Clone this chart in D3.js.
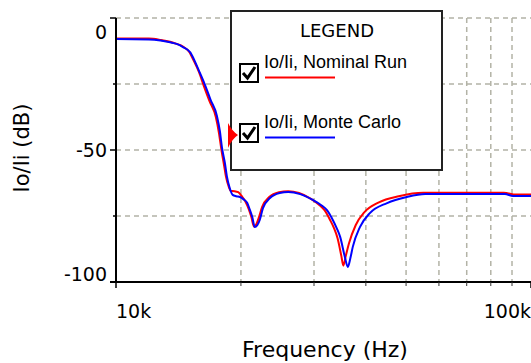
<!DOCTYPE html>
<html>
<head>
<meta charset="utf-8">
<script src="https://cdn.jsdelivr.net/npm/d3@7"></script>
<style>
  html, body { margin: 0; padding: 0; background: #fff; }
  svg { display: block; }
</style>
</head>
<body>
<div id="chart"></div>
<script>
// Nominal run (red)
var nomFreq = [10000, 12000, 12800, 13500, 14000, 14500, 15000, 15400, 15850, 16300, 16800, 17400, 17700, 17950, 18200, 18400, 18700, 18900, 19300, 19700, 20100, 20500, 20900, 21200, 21500, 21800, 22100, 22500, 23400, 24700, 26000, 27600, 29500, 31000, 31800, 32800, 33500, 34200, 34900, 35300, 35800, 36400, 37800, 39700, 43000, 48000, 55000, 86000, 92000, 100000];
var nomDb = [-7.8, -7.8, -8.3, -9, -9.8, -10.8, -12.8, -16.2, -20.5, -26, -31.5, -37.5, -43.5, -50, -55.5, -60, -64, -65.5, -65.6, -66, -67.5, -69.5, -72.5, -75.5, -79, -78, -75.5, -71.5, -67.8, -66, -65.6, -66.3, -68.5, -71, -72.8, -76.5, -79.5, -83.5, -90, -93.8, -90, -85.5, -78.5, -73.5, -69.8, -67.5, -66.2, -66.2, -66.9, -66.9];

// Monte Carlo run (blue)
var mcFreq = [10000, 12000, 12800, 13500, 14000, 14500, 15100, 15500, 15900, 16400, 16900, 17500, 17800, 18000, 18300, 18500, 18800, 19100, 19500, 19900, 20300, 20700, 21000, 21300, 21600, 21900, 22200, 22600, 23500, 24800, 26000, 27800, 29800, 31300, 32200, 33300, 34000, 34700, 35600, 36200, 36700, 37200, 38700, 40900, 45000, 50200, 55600, 86500, 90500, 100000];
var mcDb = [-8, -8.1, -8.5, -9.2, -9.8, -11, -13, -16.5, -20.5, -25.5, -31, -37, -43, -49, -55, -60, -64.5, -67, -67.5, -67.8, -68.7, -70, -72.5, -75.4, -79.2, -78.5, -76.5, -72, -68.2, -66.3, -65.9, -66.7, -68.9, -71, -72.7, -76.5, -79.5, -83, -90.5, -94.3, -91, -86.7, -79.2, -73.9, -70.1, -67.8, -66.7, -66.7, -67.4, -67.4];

var yLabelTicks = [0, -50, -100];
var yGridTicks = [0, -25, -50, -75];
var xMajorTicks = [10000, 100000];
var xMinorTicks = [20000, 30000, 40000, 50000, 60000, 70000, 80000, 90000];
var xTickLabels = ["10k", "100k"];
var legendLabels = ["Io/Ii, Nominal Run", "Io/Ii, Monte Carlo"];
var seriesColors = ["#ff0000", "#0000ff"];

var margin = {top: 18, right: 0, bottom: 81, left: 116},
    width = 531 - margin.left - margin.right,
    height = 363 - margin.top - margin.bottom;

var axisFont = "'DejaVu Sans', sans-serif",
    gridColor = "#b3b3a6";

var svg = d3.select("#chart").append("svg")
    .attr("width", 531)
    .attr("height", 363);

var g = svg.append("g")
    .attr("transform", "translate(" + margin.left + "," + margin.top + ")");

var x = d3.scaleLog().domain([10000, 100000]).range([0, width]);
var y = d3.scaleLinear().domain([-100, 0]).range([height, 0]);

// grid
g.selectAll(".hgrid").data(yGridTicks).enter().append("line")
    .attr("class", "hgrid")
    .attr("x1", 0).attr("x2", width)
    .attr("y1", function(d) { return y(d); })
    .attr("y2", function(d) { return y(d); })
    .attr("stroke", gridColor).attr("stroke-width", 1.5)
    .attr("stroke-dasharray", "5,4");

g.selectAll(".vgrid").data(xMinorTicks).enter().append("line")
    .attr("class", "vgrid")
    .attr("x1", function(d) { return x(d); })
    .attr("x2", function(d) { return x(d); })
    .attr("y1", 0).attr("y2", height)
    .attr("stroke", gridColor).attr("stroke-width", 1.5)
    .attr("stroke-dasharray", "5,4");

// curves
var line = d3.line()
    .x(function(d) { return x(d[0]); })
    .y(function(d) { return y(d[1]); })
    .curve(d3.curveMonotoneX);

var series = [d3.zip(nomFreq, nomDb), d3.zip(mcFreq, mcDb)];

g.selectAll(".curve").data(series).enter().append("path")
    .attr("class", "curve")
    .attr("d", line)
    .attr("fill", "none")
    .attr("stroke", function(d, i) { return seriesColors[i]; })
    .attr("stroke-width", 2);

// axes
var yAxis = g.append("g");
yAxis.append("line")
    .attr("x1", 0).attr("x2", 0).attr("y1", 0).attr("y2", height)
    .attr("stroke", "#000").attr("stroke-width", 2);
yAxis.selectAll(".ytick").data(yGridTicks.concat([-100])).enter().append("line")
    .attr("x1", function(d) { return yLabelTicks.indexOf(d) >= 0 ? -6 : -3; })
    .attr("x2", 0)
    .attr("y1", function(d) { return y(d); })
    .attr("y2", function(d) { return y(d); })
    .attr("stroke", "#000").attr("stroke-width", 1.5);
// end labels are nudged inward, the way the original tool does it
yAxis.selectAll(".ylabel").data(yLabelTicks).enter().append("text")
    .attr("x", -9)
    .attr("y", function(d) { return y(d) + 7 + (d === 0 ? 14 : d === -100 ? -8 : 0); })
    .attr("text-anchor", "end")
    .style("font-family", axisFont).style("font-size", "19px")
    .text(function(d) { return d; });

var xAxis = g.append("g").attr("transform", "translate(0," + height + ")");
xAxis.append("line")
    .attr("x1", -6).attr("x2", width).attr("y1", 0).attr("y2", 0)
    .attr("stroke", "#000").attr("stroke-width", 2);
xAxis.selectAll(".xmajor").data(xMajorTicks).enter().append("line")
    .attr("x1", function(d) { return x(d); })
    .attr("x2", function(d) { return x(d); })
    .attr("y1", 0).attr("y2", 6)
    .attr("stroke", "#000").attr("stroke-width", 1.5);
xAxis.selectAll(".xminor").data(xMinorTicks).enter().append("line")
    .attr("x1", function(d) { return x(d); })
    .attr("x2", function(d) { return x(d); })
    .attr("y1", 0).attr("y2", 4)
    .attr("stroke", "#333").attr("stroke-width", 1);
xAxis.selectAll(".xlabel").data(xMajorTicks).enter().append("text")
    .attr("x", function(d) { return x(d); })
    .attr("y", 36)
    .attr("text-anchor", function(d, i) { return i === 0 ? "start" : "end"; })
    .style("font-family", axisFont).style("font-size", "19px")
    .text(function(d, i) { return xTickLabels[i]; });

// axis titles
svg.append("text")
    .attr("x", 325).attr("y", 357)
    .attr("text-anchor", "middle")
    .style("font-family", axisFont).style("font-size", "22px")
    .text("Frequency (Hz)");

svg.append("text")
    .attr("transform", "translate(29,148) rotate(-90)")
    .attr("text-anchor", "middle")
    .style("font-family", axisFont).style("font-size", "21px")
    .text("Io/Ii (dB)");

// legend
var legend = svg.append("g").attr("transform", "translate(231,11)");
legend.append("rect")
    .attr("width", 211).attr("height", 159)
    .attr("fill", "#fff").attr("stroke", "#222").attr("stroke-width", 2);
legend.append("text")
    .attr("x", 106).attr("y", 26)
    .attr("text-anchor", "middle")
    .style("font-family", axisFont).style("font-size", "18px")
    .text("LEGEND");

var item = legend.selectAll(".item").data(legendLabels).enter().append("g")
    .attr("transform", function(d, i) { return "translate(0," + (i * 60) + ")"; });
item.append("rect")
    .attr("x", 9).attr("y", 53).attr("width", 18).attr("height", 18)
    .attr("fill", "#fff").attr("stroke", "#000").attr("stroke-width", 2);
item.append("path")
    .attr("d", "M12,62 L16.5,67 L24,56")
    .attr("fill", "none").attr("stroke", "#000").attr("stroke-width", 3);
item.append("text")
    .attr("x", 33).attr("y", 57)
    .style("font-family", "'Liberation Sans', Arial, sans-serif").style("font-size", "18px")
    .text(function(d) { return d; });
item.append("line")
    .attr("x1", 34).attr("x2", 104).attr("y1", 66.5).attr("y2", 66.5)
    .attr("stroke", function(d, i) { return seriesColors[i]; })
    .attr("stroke-width", 2);

// selection marker on the active trace
legend.append("path")
    .attr("d", "M-3,112 Q1,120 7,124 Q1,128 -3,137 Z")
    .attr("fill", "#ff0000");
</script>
</body>
</html>
